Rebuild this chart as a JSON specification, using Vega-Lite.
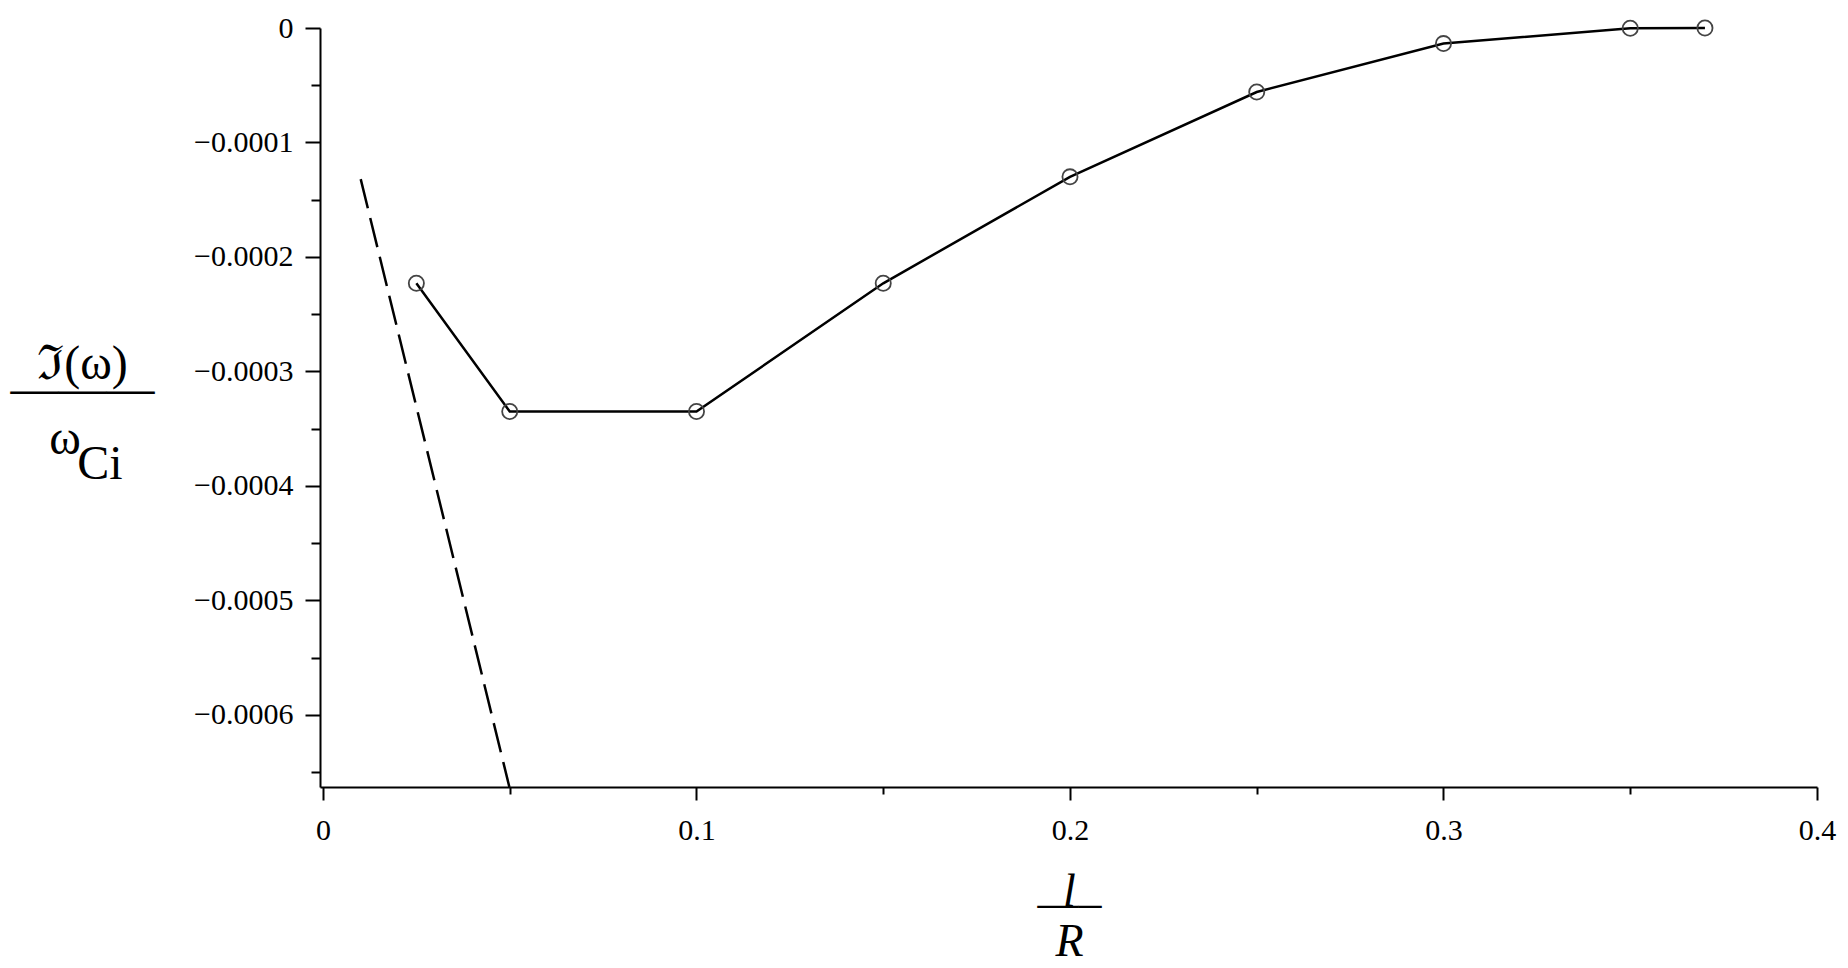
{
  "$schema": "https://vega.github.io/schema/vega-lite/v6.json",
  "autosize": {"type": "none"},
  "width": 1497,
  "height": 759,
  "padding": {"left": 320, "top": 28, "right": 31, "bottom": 181},
  "background": "white",
  "config": {
    "view": {"stroke": null},
    "axis": {
      "grid": false,
      "domainColor": "black",
      "domainWidth": 2,
      "tickColor": "black",
      "tickWidth": 2,
      "labelColor": "black",
      "labelFont": "Liberation Serif",
      "labelFontSize": 30,
      "titleColor": "black",
      "titleFont": "Liberation Serif"
    }
  },
  "datasets": {
    "numeric": [
      {"lR": 0.025, "im": -0.000223},
      {"lR": 0.05, "im": -0.000335},
      {"lR": 0.1, "im": -0.000335},
      {"lR": 0.15, "im": -0.000223},
      {"lR": 0.2, "im": -0.00013},
      {"lR": 0.25, "im": -0.0000559},
      {"lR": 0.3, "im": -0.0000136},
      {"lR": 0.35, "im": -0.0000002},
      {"lR": 0.37, "im": 0.0}
    ],
    "estimate": [
      {"lR": 0.0101, "im": -0.000132},
      {"lR": 0.0499, "im": -0.000663}
    ]
  },
  "encoding": {
    "x": {
      "field": "lR",
      "type": "quantitative",
      "scale": {"domain": [-0.0008, 0.4], "nice": false, "zero": false},
      "axis": {
        "values": [0, 0.05, 0.1, 0.15, 0.2, 0.25, 0.3, 0.35, 0.4],
        "labelExpr": "round(datum.value*20)%2==0 ? (datum.value==0 ? '0' : format(datum.value,'.1f')) : ''",
        "tickSize": {"condition": {"test": "round(datum.value*20)%2==0", "value": 13}, "value": 7},
        "labelPadding": 15,
        "labelFlush": false,
        "labelOverlap": false,
        "title": ["l", "—–", "\u2800", "\u2800", "R"],
        "titleFontSize": 46,
        "titleFontStyle": "italic",
        "titleFontWeight": "normal",
        "titleLineHeight": 12.5,
        "titleAlign": "center",
        "titleBaseline": "alphabetic",
        "titleX": 749,
        "titleY": 118
      }
    },
    "y": {
      "field": "im",
      "type": "quantitative",
      "scale": {"domain": [-0.000663, 0], "nice": false, "zero": false},
      "axis": {
        "values": [0, -0.00005, -0.0001, -0.00015, -0.0002, -0.00025, -0.0003, -0.00035, -0.0004, -0.00045, -0.0005, -0.00055, -0.0006, -0.00065],
        "labelExpr": "abs(round(datum.value*20000))%2==0 ? (datum.value==0 ? '0' : '−' + format(-datum.value,'.4f')) : ''",
        "tickSize": {"condition": {"test": "abs(round(datum.value*20000))%2==0", "value": 15}, "value": 9},
        "labelPadding": 12,
        "labelOverlap": false,
        "labelFlush": false,
        "title": ["ℑ(ω)", "———", "\u2800", "ω\u2800", "\u2800Ci"],
        "titleAngle": 0,
        "titleFontSize": 48,
        "titleFontWeight": "normal",
        "titleLineHeight": 25,
        "titleAlign": "center",
        "titleBaseline": "alphabetic",
        "titleX": -238,
        "titleY": 350
      }
    }
  },
  "layer": [
    {
      "data": {"name": "estimate"},
      "mark": {"type": "line", "color": "black", "strokeWidth": 2.5, "strokeDash": [30, 10], "clip": true}
    },
    {
      "data": {"name": "numeric"},
      "mark": {"type": "line", "color": "black", "strokeWidth": 2.5}
    },
    {
      "data": {"name": "numeric"},
      "mark": {"type": "point", "shape": "circle", "filled": false, "stroke": "#444444", "strokeWidth": 1.8, "size": 230, "opacity": 1}
    }
  ]
}
